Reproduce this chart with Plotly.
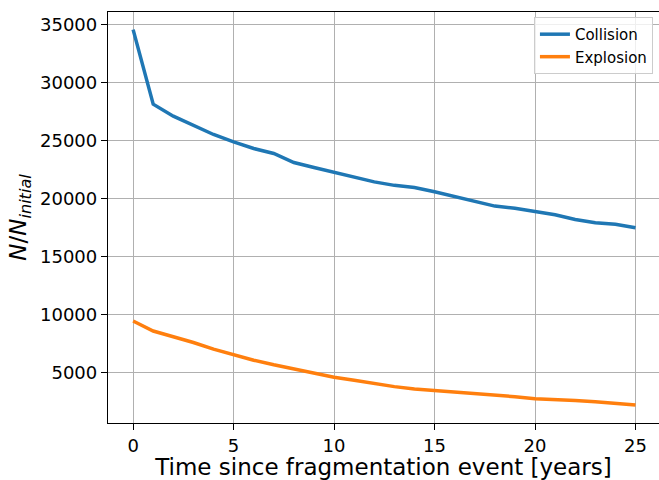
import plotly.graph_objects as go

years = list(range(26))
collision = [34570, 28130, 27100, 26320, 25520, 24880, 24310, 23880, 23100, 22670,
             22270, 21840, 21430, 21130, 20950, 20570, 20140, 19710, 19340, 19160,
             18900, 18590, 18190, 17900, 17780, 17470]
explosion = [9420, 8560, 8060, 7570, 6990, 6500, 6040, 5640, 5290, 4880,
             4570, 4310, 4020, 3760, 3560, 3440, 3300, 3150, 3010, 2890,
             2720, 2660, 2570, 2460, 2310, 2170]
x_ticks = [0, 5, 10, 15, 20, 25]
y_ticks = [5000, 10000, 15000, 20000, 25000, 30000, 35000]

FONT = "DejaVu Sans"

fig = go.Figure()
fig.add_trace(go.Scatter(x=years, y=collision, mode="lines", name="Collision",
                         line=dict(color="#1f77b4", width=3.5)))
fig.add_trace(go.Scatter(x=years, y=explosion, mode="lines", name="Explosion",
                         line=dict(color="#ff7f0e", width=3.5)))

fig.update_layout(
    template="none",
    width=659, height=480,
    margin=dict(l=108, r=0, t=12, b=57, pad=0),
    paper_bgcolor="white", plot_bgcolor="white",
    font=dict(family=FONT, color="black", size=18),
    showlegend=True,
    legend=dict(x=0.989, y=0.988, xanchor="right", yanchor="top",
                bgcolor="rgba(255,255,255,0.8)", bordercolor="#cccccc", borderwidth=1,
                font=dict(family=FONT, size=15, color="black"),
                itemwidth=30, tracegroupgap=0),
)
fig.update_xaxes(
    range=[-1.25, 26.17], tickvals=x_ticks, ticktext=[str(v) for v in x_ticks],
    showgrid=True, gridcolor="#b0b0b0", gridwidth=1.2, zeroline=False,
    showline=True, linecolor="black", linewidth=1.3, mirror=True,
    ticks="outside", ticklen=6, tickwidth=1.3, tickcolor="black",
    tickfont=dict(family=FONT, size=18, color="black"),
    title=dict(text="Time since fragmentation event [years]",
               font=dict(family=FONT, size=23, color="black"), standoff=4),
    automargin=False,
)
fig.update_yaxes(
    range=[620, 36090], tickvals=y_ticks, ticktext=[str(v) for v in y_ticks],
    showgrid=True, gridcolor="#b0b0b0", gridwidth=1.2, zeroline=False,
    showline=True, linecolor="black", linewidth=1.3, mirror=False,
    ticks="outside", ticklen=6, tickwidth=1.3, tickcolor="black",
    tickfont=dict(family=FONT, size=18, color="black"),
    title=dict(text="<i>N</i>/<i>N</i><sub><i>initial</i></sub>",
               font=dict(family=FONT, size=23, color="black"), standoff=6),
    automargin=False,
)

fig.write_html("out.html")
